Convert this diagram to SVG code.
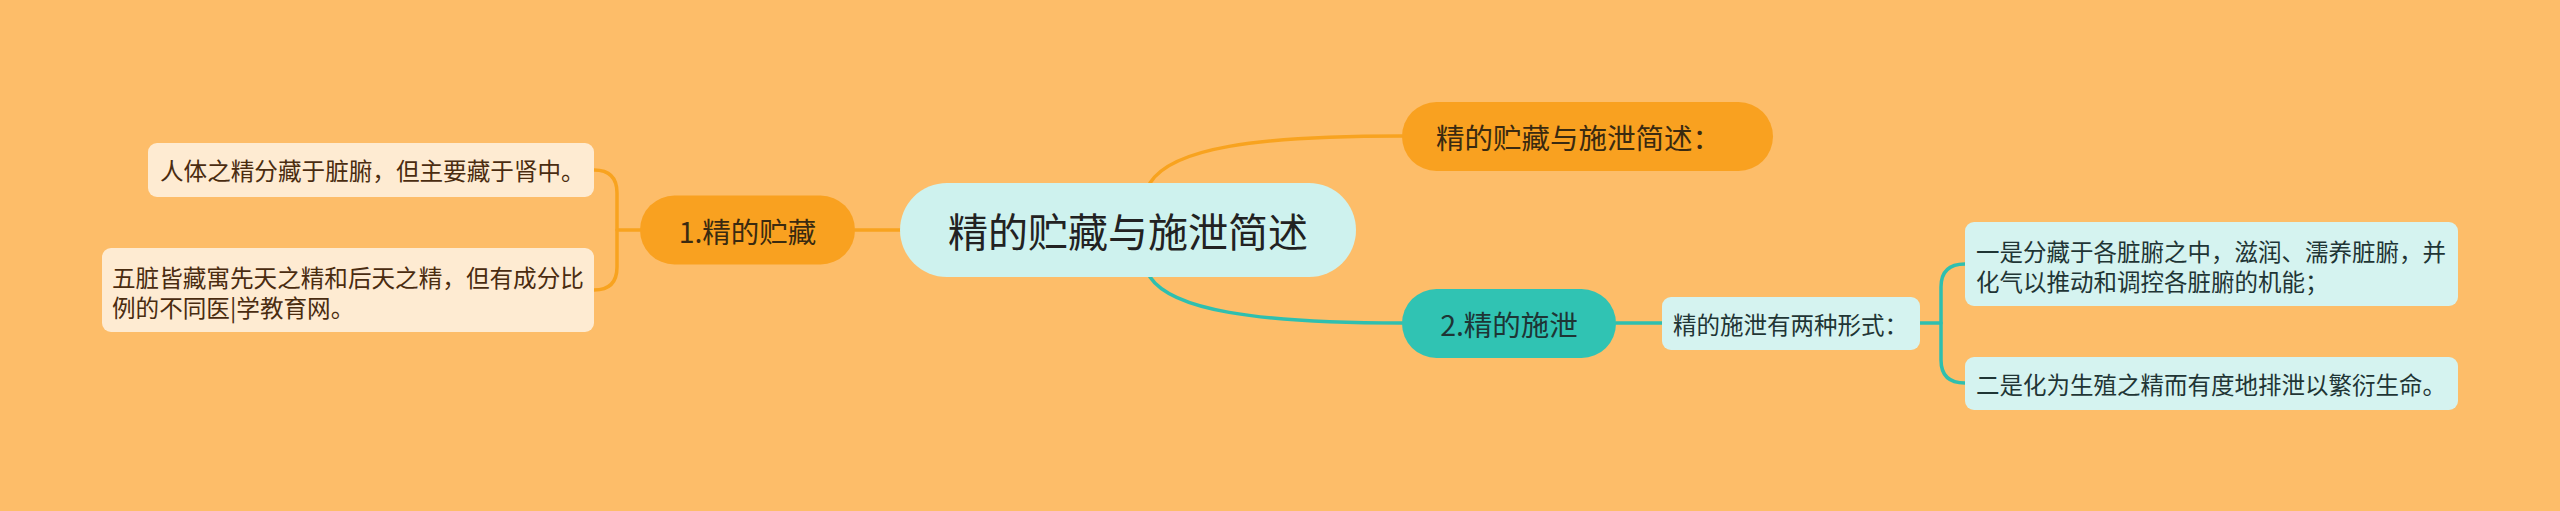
<svg xmlns="http://www.w3.org/2000/svg" width="2560" height="511" viewBox="0 0 2560 511">
<style>
text{font-family:"Noto Sans CJK SC","Noto Sans",sans-serif;dominant-baseline:central}
.c-or{fill:none;stroke:#F8A31F;stroke-width:3.5;stroke-linecap:round}
.c-te{fill:none;stroke:#2FBFAF;stroke-width:3.5;stroke-linecap:round}
.leaf-l{fill:#FEEBD2}
.leaf-r{fill:#D5F3F0}
.tl{font-size:23.6px;fill:#4A2C10}
.tr{font-size:23.5px;fill:#1F3535}
</style>
<rect width="2560" height="511" fill="#FDBD69"/>
<g id="connectors">
<path class="c-or" d="M1150,183 C1172,148 1255,136 1402,136"/>
<path class="c-te" d="M1150,277 C1172,310 1255,323 1402,323"/>
<path class="c-or" d="M900,230 L855,230"/>
<path class="c-or" d="M640,230 L617,230"/>
<path class="c-or" d="M594,170 Q617,170 617,193 L617,267 Q617,290 594,290"/>
<path class="c-te" d="M1616,323 L1662,323"/>
<path class="c-te" d="M1920,323 L1941,323"/>
<path class="c-te" d="M1965,264 Q1941,264 1941,287 L1941,360 Q1941,383 1965,383"/>
</g>
<g id="central">
<rect x="900" y="183" width="456" height="94" rx="47" fill="#CEF2EE"/>
<text x="1128" y="230" font-size="40" fill="#222" text-anchor="middle">精的贮藏与施泄简述</text>
</g>
<g id="summary">
<rect x="1402" y="102" width="371" height="69" rx="34.5" fill="#F9A120"/>
<text x="1436" y="136.5" font-size="28.5" fill="#3A2A10">精的贮藏与施泄简述：</text>
</g>
<g id="storage">
<rect x="640" y="195.5" width="215" height="69" rx="34.5" fill="#F9A120"/>
<text x="747.5" y="230" font-size="28.5" fill="#3A2A10" text-anchor="middle">1.精的贮藏</text>
</g>
<g id="leaf-storage-1">
<rect class="leaf-l" x="148" y="143" width="446" height="54" rx="9"/>
<text class="tl" x="160" y="170">人体之精分藏于脏腑，但主要藏于肾中。</text>
</g>
<g id="leaf-storage-2">
<rect class="leaf-l" x="102" y="248" width="492" height="84" rx="9"/>
<text class="tl" x="112" y="277">五脏皆藏寓先天之精和后天之精，但有成分比</text>
<text class="tl" x="112" y="307">例的不同医|学教育网。</text>
</g>
<g id="discharge">
<rect x="1402" y="289" width="214" height="69" rx="34.5" fill="#30C3B3"/>
<text x="1509" y="323.5" font-size="28.5" fill="#1E3535" text-anchor="middle">2.精的施泄</text>
</g>
<g id="forms">
<rect class="leaf-r" x="1662" y="297" width="258" height="53" rx="9"/>
<text class="tr" x="1673" y="323.5" font-size="22.6">精的施泄有两种形式：</text>
</g>
<g id="form-1">
<rect class="leaf-r" x="1965" y="222" width="493" height="84" rx="9"/>
<text class="tr" x="1976" y="251">一是分藏于各脏腑之中，滋润、濡养脏腑，并</text>
<text class="tr" x="1976" y="281">化气以推动和调控各脏腑的机能；</text>
</g>
<g id="form-2">
<rect class="leaf-r" x="1965" y="357" width="493" height="53" rx="9"/>
<text class="tr" x="1976" y="383.5">二是化为生殖之精而有度地排泄以繁衍生命。</text>
</g>
</svg>
